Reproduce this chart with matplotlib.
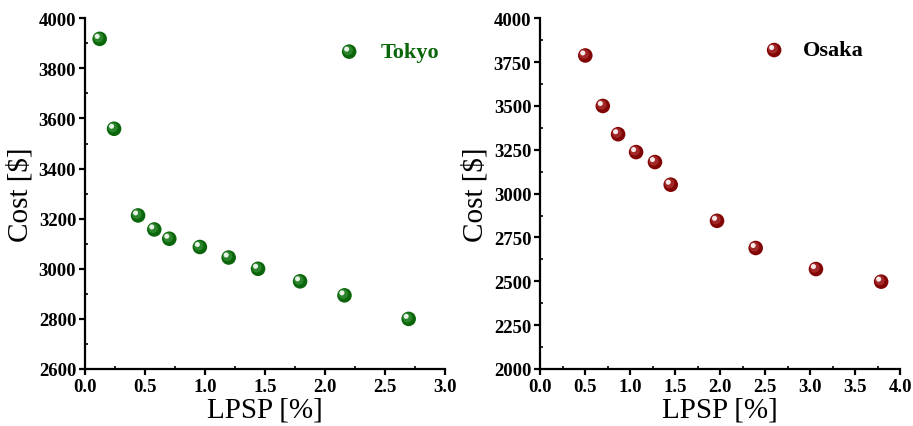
import matplotlib
matplotlib.use("Agg")
import matplotlib.pyplot as plt
from matplotlib.ticker import MultipleLocator
from matplotlib.transforms import offset_copy

tokyo_lpsp = [0.12, 0.24, 0.44, 0.575, 0.70, 0.955, 1.195, 1.44, 1.79, 2.16, 2.695]
tokyo_cost = [3918, 3559, 3213, 3157, 3120, 3087, 3045, 3000, 2950, 2894, 2800]
osaka_lpsp = [0.50, 0.695, 0.865, 1.065, 1.275, 1.45, 1.965, 2.395, 3.065, 3.79]
osaka_cost = [3788, 3500, 3339, 3237, 3180, 3051, 2845, 2690, 2570, 2498]

plt.rcParams['font.family'] = ['Liberation Serif', 'DejaVu Serif']

fig = plt.figure(figsize=(9.13, 4.27), dpi=100)
ax1 = fig.add_axes([0.0934, 0.1335, 0.3943, 0.8213])
ax2 = fig.add_axes([0.5918, 0.1335, 0.3940, 0.8213])


def balls(ax, x, y, base, mid, transform=None, s=110):
    tr = transform if transform is not None else ax.transData
    ax.scatter(x, y, s=s, color=base, edgecolors='none', transform=tr, zorder=3, clip_on=False)
    t2 = offset_copy(tr, fig=fig, x=-0.9, y=0.9, units='points')
    ax.scatter(x, y, s=s * 0.45, color=mid, edgecolors='none', transform=t2, zorder=4, clip_on=False, alpha=0.6)
    t3 = offset_copy(tr, fig=fig, x=-1.8, y=1.8, units='points')
    ax.scatter(x, y, s=s * 0.12, color='white', edgecolors='none', transform=t3, zorder=5, clip_on=False, alpha=0.9)


def style(ax, xmax, ymin, ymax, ymaj):
    ax.set_xlim(0, xmax)
    ax.set_ylim(ymin, ymax)
    ax.xaxis.set_major_locator(MultipleLocator(0.5))
    ax.xaxis.set_minor_locator(MultipleLocator(0.25))
    ax.yaxis.set_major_locator(MultipleLocator(ymaj))
    ax.yaxis.set_minor_locator(MultipleLocator(ymaj / 2))
    for sp in ['top', 'right']:
        ax.spines[sp].set_visible(False)
    for sp in ['left', 'bottom']:
        ax.spines[sp].set_linewidth(1.6)
    ax.tick_params(which='major', direction='out', length=4, width=1.6, labelsize=13.5, pad=2.5)
    ax.tick_params(which='minor', direction='in', length=2.5, width=1.2)
    for lab in ax.get_xticklabels() + ax.get_yticklabels():
        lab.set_fontweight('bold')
    ax.set_xlabel('LPSP [%]', fontsize=21, labelpad=1)
    ax.set_ylabel('Cost [$]', fontsize=21, labelpad=4)


balls(ax1, tokyo_lpsp, tokyo_cost, '#0b650b', '#3f9a3f')
balls(ax2, osaka_lpsp, osaka_cost, '#820505', '#b84040')

style(ax1, 3.0, 2600, 4000, 200)
style(ax2, 4.0, 2000, 4000, 250)

# legends
balls(ax1, [0.733], [0.905], '#0b650b', '#3f9a3f', transform=ax1.transAxes)
ax1.text(0.82, 0.905, 'Tokyo', transform=ax1.transAxes, fontsize=16, fontweight='bold',
         color='#0b650b', va='center', ha='left')
balls(ax2, [0.65], [0.9095], '#820505', '#b84040', transform=ax2.transAxes)
ax2.text(0.73, 0.9095, 'Osaka', transform=ax2.transAxes, fontsize=16, fontweight='bold',
         color='black', va='center', ha='left')

fig.savefig('out.png', dpi=100)
